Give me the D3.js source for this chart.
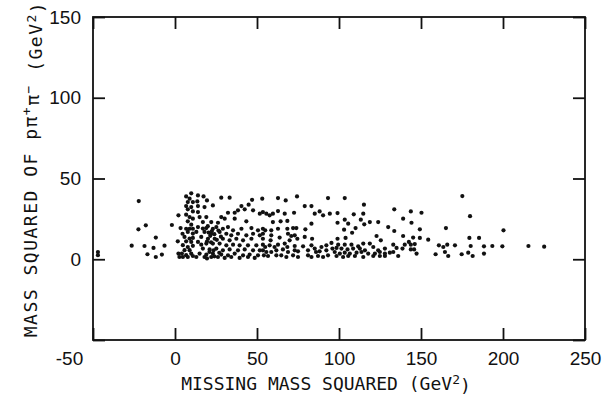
<!DOCTYPE html>
<html>
<head>
<meta charset="utf-8">
<script src="https://cdn.jsdelivr.net/npm/d3@7"></script>
<style>
body { margin: 0; background: #fff; }
.tick text { font-family: "Liberation Sans", Arial, sans-serif; font-size: 19px; fill: #111; }
.title { font-family: "DejaVu Sans Mono", monospace; font-size: 18px; fill: #111; }
</style>
</head>
<body>
<svg id="chart" width="613" height="402"></svg>
<script>
var xTicks = [-50, 0, 50, 100, 150, 200, 250];
var yTicks = [-50, 0, 50, 100, 150];

// events: [missing mass squared, mass squared of p pi+ pi-], GeV^2
var pointsLow = [
  [-47,4.5],[-47,2.5],
  [-22.1,36.0],[-22.3,18.5],[-17.8,21.0],[-11.7,13.4],[-26.4,8.4],[-18.6,8.2],[-13.1,7.0],[-6.4,8.4],
  [-16.8,3.1],[-11.7,1.4],[-8.0,2.9],[-1.9,21.2],[2.1,27.2],[3.4,19.3],[4.6,15.8],[1.7,11.1],
  [2.1,3.5],[4.2,3.5],[2.7,1.4],[4.8,1.4]
];
var pointsColumn = [
  [9.9,40.8],[6.8,38.9],[8.9,37.5],[7.8,35.4],[10.9,35.4],[6.8,32.9],[9.9,32.3],[7.8,30.9],[10.9,29.6],
  [6.8,27.6],[8.9,26.1],[10.9,25.1],[7.8,23.5],[9.9,21.4],[6.8,18.9],[8.9,18.9],[10.9,18.9],[7.8,16.9],
  [10.9,15.9],[5.8,13.8],[8.9,12.8],[10.9,13.2],[6.8,11.1],[9.9,10.7],[4.8,8.7],[7.8,7.6],[10.9,8.3],
  [5.8,5.6],[8.9,5.6],[6.8,2.5],[9.9,3.5],[7.8,1.4],[10.9,2.0]
];
var pointsDense = [
  [14.0,39.5],[17.4,38.9],[19.5,36.4],[13.6,35.8],[28.2,38.1],[33.3,38.1],[47.0,36.8],[14.0,32.9],
  [18.0,32.3],[23.1,33.3],[40.5,32.9],[42.5,30.9],[44.9,33.8],[38.4,30.3],[47.6,30.3],[32.3,28.8],
  [36.4,28.8],[51.7,28.2],[14.0,29.2],[15.0,26.1],[19.1,26.1],[28.2,26.1],[30.3,25.1],[36.4,25.1],
  [43.5,23.5],[17.0,23.0],[22.1,23.0],[26.2,22.6],[14.0,19.9],[19.1,19.3],[23.1,18.9],[25.2,19.9],
  [29.2,18.9],[32.3,19.9],[35.4,17.9],[40.5,18.9],[46.6,19.3],[50.6,17.9],[13.0,16.9],[18.0,16.9],
  [22.1,15.8],[27.2,16.9],[31.3,15.8],[34.3,14.8],[38.4,15.8],[43.5,14.8],[47.6,15.8],[51.7,14.8],
  [16.0,13.8],[20.1,12.7],[24.2,12.7],[29.2,12.7],[33.3,11.7],[37.4,12.7],[41.5,11.7],[46.6,12.7],
  [14.0,10.7],[19.1,9.7],[23.1,9.7],[27.2,9.7],[31.3,8.6],[35.4,9.0],[39.4,8.6],[44.5,8.6],[49.6,8.6],
  [17.0,6.6],[21.1,6.1],[25.2,6.6],[29.2,5.5],[33.3,6.1],[38.4,5.5],[42.5,6.1],[47.6,5.5],[51.7,5.5],
  [15.0,3.5],[19.1,2.9],[23.1,3.5],[28.2,2.9],[32.3,2.4],[36.4,3.5],[41.5,2.4],[45.5,2.9],[50.6,2.4],
  [13.0,1.4],[18.0,1.4],[22.1,1.4],[26.2,1.4],[30.3,0.8],[34.3,1.4],[39.4,0.8],[44.5,1.4],[48.6,0.8],
  [20.5,16.5],[22.5,17.5],[21.5,14.5],[24.0,15.5],[19.5,11.0],[22.0,10.5],[25.5,12.0],[21.0,4.5],
  [23.5,5.5],[20.0,20.5],[17.0,19.0],[16.0,9.0],[27.0,4.0],[24.0,1.8],[19.5,0.5],[28.0,14.0],[26.5,17.8]
];
var pointsMid = [
  [53.2,37.5],[62.8,37.9],[67.5,36.4],[74.4,38.9],[93.3,37.9],[79.1,32.9],[83.2,32.9],[53.6,29.2],
  [55.7,28.2],[57.7,27.2],[59.7,28.2],[62.8,29.8],[66.9,28.2],[72.6,28.8],[85.2,28.2],[88.2,29.6],
  [90.3,27.2],[94.4,28.2],[59.7,23.0],[64.4,23.5],[68.5,23.7],[83.2,22.0],[53.6,18.9],[55.0,17.9],
  [58.7,17.9],[62.8,18.9],[68.5,18.9],[72.0,19.3],[74.0,19.3],[79.5,18.5],[53.6,15.8],[58.7,14.8],
  [63.8,13.4],[68.9,15.8],[70.9,14.4],[73.0,14.8],[74.6,12.7],[79.1,13.8],[83.6,12.7],[53.6,12.7],
  [58.3,11.7],[69.9,11.7],[53.6,9.0],[55.0,7.6],[57.7,8.6],[60.7,7.6],[62.8,9.0],[66.9,9.7],[68.5,7.6],
  [73.0,8.2],[78.1,8.0],[83.2,8.6],[85.2,6.6],[89.3,7.6],[92.3,8.6],[53.6,5.5],[55.7,4.5],[58.7,4.5],
  [61.8,5.5],[65.8,6.1],[68.9,4.5],[73.0,5.5],[75.0,4.9],[81.1,5.5],[86.0,4.5],[88.2,4.9],[92.3,5.5],
  [54.2,2.4],[56.7,2.0],[61.8,2.4],[64.8,2.4],[67.9,1.4],[72.0,2.4],[75.0,1.4],[81.1,2.4],[83.2,1.4],
  [87.2,2.0],[90.3,1.4],[93.3,2.4]
];
var pointsHigh = [
  [103.5,37.9],[115.2,33.8],[99.1,28.6],[114.8,28.2],[109.0,27.8],[133.7,30.9],[99.1,22.6],[103.5,24.5],
  [105.6,22.0],[113.3,24.5],[115.4,21.6],[118.8,23.0],[123.9,23.0],[103.1,18.3],[110.1,19.3],[108.0,16.4],
  [130.0,19.9],[133.7,17.5],[99.1,12.7],[104.0,13.2],[122.9,14.4],[125.5,11.7],[95.4,10.1],[99.5,9.0],
  [103.5,9.0],[107.6,9.0],[111.7,8.0],[114.8,9.7],[118.8,9.7],[133.1,9.0],[96.0,6.6],[98.5,7.0],
  [101.5,6.6],[105.2,6.1],[108.6,6.6],[112.7,6.6],[115.8,5.5],[120.9,7.6],[123.9,5.5],[128.0,6.6],
  [135.1,7.0],[97.4,4.5],[100.5,3.5],[103.5,4.1],[106.6,3.5],[110.7,4.1],[113.7,4.5],[117.8,3.5],
  [121.9,3.5],[124.9,4.5],[128.0,3.5],[131.0,4.1],[133.1,4.5],[98.5,2.0],[102.5,1.4],[105.6,2.0],
  [109.7,2.0],[114.8,1.4],[120.9,2.0],[124.9,2.0],[128.0,2.0],[136.1,2.0],
  [175.2,39.1],[143.8,29.6],[150.3,28.8],[139.1,25.1],[144.2,22.6],[179.9,26.7],[149.3,18.5],[165.2,19.3],
  [139.1,14.4],[145.2,13.4],[149.3,13.2],[154.4,12.1],[179.5,13.2],[142.6,10.7],[140.1,9.0],[143.8,9.0],
  [146.2,9.4],[160.9,8.6],[163.6,7.6],[166.0,9.0],[170.7,8.6],[180.3,8.2],[138.7,6.6],[143.8,6.1],
  [145.8,6.1],[164.6,4.5],[178.8,4.1],[147.3,3.5],[158.9,3.1],[166.6,2.0],[174.8,3.1],[181.5,2.0],
  [200.3,17.9],[185.4,13.2],[188.4,8.0],[193.5,8.2],[199.6,8.0],[215.5,8.2],[225.1,7.8],[188.4,3.5]
];

var points = pointsLow.concat(pointsColumn, pointsDense, pointsMid, pointsHigh);

var plotLeft = 93, plotRight = 585, plotTop = 17, plotBottom = 340;
var tickLen = 12;

var svg = d3.select("#chart");

var x = d3.scaleLinear().domain([-50, 250]).range([plotLeft, plotRight]);
var y = d3.scaleLinear().domain([-50, 150]).range([plotBottom, plotTop]);

// the corner "-50" is shared by both axes and sits on the x label row, left of the frame
var xAxis = svg.append("g")
  .attr("transform", "translate(0," + plotBottom + ")")
  .call(d3.axisBottom(x).tickValues(xTicks).tickSizeInner(-tickLen).tickSizeOuter(0).tickPadding(12)
    .tickFormat(function(d){ return String(d); }));

xAxis.selectAll(".tick")
  .filter(function(d){ return d == -50; })
  .select("text")
  .attr("x", -24);

svg.append("g")
  .attr("transform", "translate(" + plotLeft + ",0)")
  .call(d3.axisLeft(y).tickValues(yTicks).tickSizeInner(-tickLen).tickSizeOuter(0).tickPadding(12)
    .tickFormat(function(d){ return d == -50 ? "" : String(d); }));

svg.append("g")
  .attr("transform", "translate(0," + plotTop + ")")
  .call(d3.axisTop(x).tickValues(xTicks).tickSizeInner(-tickLen).tickSizeOuter(0).tickFormat(""));

svg.append("g")
  .attr("transform", "translate(" + plotRight + ",0)")
  .call(d3.axisRight(y).tickValues(yTicks).tickSizeInner(-tickLen).tickSizeOuter(0).tickFormat(""));

svg.selectAll(".domain").remove();
svg.selectAll(".tick line").attr("stroke", "#111").attr("stroke-width", 1.8);

svg.append("rect")
  .attr("x", plotLeft)
  .attr("y", plotTop)
  .attr("width", plotRight - plotLeft)
  .attr("height", plotBottom - plotTop)
  .attr("fill", "none")
  .attr("stroke", "#111")
  .attr("stroke-width", 1.8);

svg.append("g")
  .selectAll("circle")
  .data(points)
  .enter()
  .append("circle")
  .attr("cx", function(d){ return x(d[0]); })
  .attr("cy", function(d){ return y(d[1]); })
  .attr("r", 2.1)
  .attr("fill", "#111");

// x title
var xt = svg.append("text")
  .attr("class", "title")
  .attr("x", 326)
  .attr("y", 390)
  .attr("text-anchor", "middle");
xt.append("tspan").text("MISSING MASS SQUARED (GeV");
xt.append("tspan").attr("dy", "-0.45em").attr("font-size", "13px").text("2");
xt.append("tspan").attr("dy", "0.45em").text(")");

// y title
var yt = svg.append("text")
  .attr("class", "title")
  .attr("transform", "translate(37,169) rotate(-90)")
  .attr("letter-spacing", "1.5px")
  .attr("text-anchor", "middle");
yt.append("tspan").text("MASS SQUARED OF p\u03c0");
yt.append("tspan").attr("dy", "-0.45em").attr("font-size", "13px").text("+");
yt.append("tspan").attr("dy", "0.45em").text("\u03c0");
yt.append("tspan").attr("dy", "-0.45em").attr("font-size", "13px").text("\u2212");
yt.append("tspan").attr("dy", "0.45em").text(" (GeV");
yt.append("tspan").attr("dy", "-0.45em").attr("font-size", "13px").text("2");
yt.append("tspan").attr("dy", "0.45em").text(")");
</script>
</body>
</html>
